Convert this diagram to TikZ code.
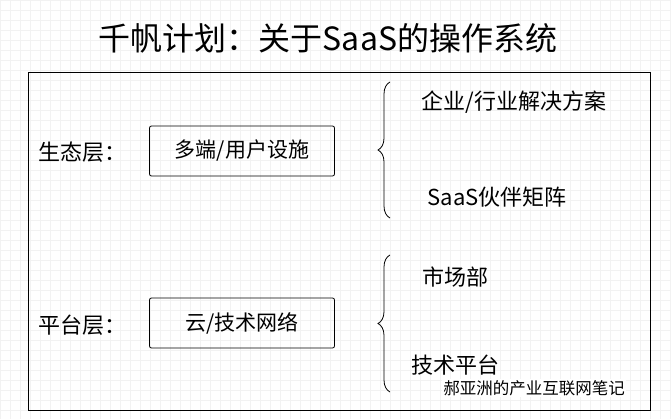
\documentclass[tikz,border=0pt]{standalone}
\usepackage{fontspec}
\setmainfont{Noto Sans CJK SC}
\usetikzlibrary{decorations.pathreplacing}
\tikzset{
  layerbox/.style={draw,thick,rounded corners=2pt,minimum width=185pt,minimum height=50pt,font=\fontsize{21}{25}\selectfont},
  label/.style={font=\fontsize{22}{26}\selectfont},
  bracket/.style={decorate,decoration={brace,amplitude=12pt},thick}
}
\begin{document}
\begin{tikzpicture}[x=1pt,y=-1pt]
\useasboundingbox (0,0) rectangle (671,419);
\fill[white] (0,0) rectangle (671,419);
\draw[black!5,step=10pt] (0,0) grid (671,419);

\node[font=\fontsize{32}{38}\selectfont] (title) at (328,38) {千帆计划：关于SaaS的操作系统};
\draw[thick] (28,72) rectangle (650,410);

% ecosystem layer
\node[label] (eco) at (82,152) {生态层：};
\node[layerbox] (ecobox) at (242,151) {多端/用户设施};
\coordinate (b1s) at (390,218);
\coordinate (b1e) at (390,82);
\draw[bracket] (b1s) -- (b1e);
\node[label] (ent) at (514,102) {企业/行业解决方案};
\node[label] (saas) at (497,197) {SaaS伙伴矩阵};

% platform layer
\node[label] (plat) at (82,325) {平台层：};
\node[layerbox] (platbox) at (242,323) {云/技术网络};
\coordinate (b2s) at (390,392);
\coordinate (b2e) at (390,255);
\draw[bracket] (b2s) -- (b2e);
\node[label] (mkt) at (455,277) {市场部};
\node[label] (tech) at (455,365) {技术平台};

\node[font=\fontsize{16.5}{19}\selectfont,fill=white,inner sep=1pt] (mark) at (534,388) {郝亚洲的产业互联网笔记};
\end{tikzpicture}
\end{document}
